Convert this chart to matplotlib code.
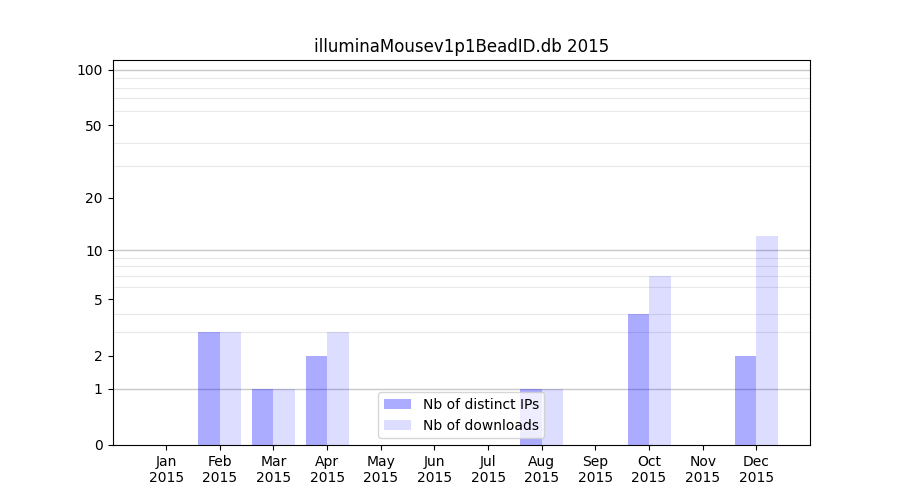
import numpy as np
import matplotlib
matplotlib.use("Agg")
import matplotlib.pyplot as plt

months = ["Jan", "Feb", "Mar", "Apr", "May", "Jun", "Jul", "Aug", "Sep", "Oct", "Nov", "Dec"]
year = "2015"
nb_ips = [0, 3, 1, 2, 0, 0, 0, 1, 0, 4, 0, 2]
nb_downloads = [0, 3, 1, 3, 0, 0, 0, 1, 0, 7, 0, 12]
ytick_vals = [0, 1, 2, 5, 10, 20, 50, 100]
major_lines = [1, 10, 100]
minor_lines = [2, 3, 4, 5, 6, 7, 8, 9, 20, 30, 40, 50, 60, 70, 80, 90]

def fwd(y):
    return np.log10(1 + np.clip(y, 0, None))

def inv(y):
    return 10 ** y - 1

fig = plt.figure(figsize=(9, 5), dpi=100)
ax = plt.subplot(111)
ax.set_axisbelow(True)
x = np.arange(1, len(months) + 1)
w = 0.4

ax.bar(x - w / 2, nb_ips, width=w, color="blue", alpha=0.33, label="Nb of distinct IPs", zorder=2)
ax.bar(x + w / 2, nb_downloads, width=w, color="blue", alpha=0.135, label="Nb of downloads", zorder=2)

ax.set_yscale("function", functions=(fwd, inv))
ax.set_ylim(0, 113)
ax.set_xlim(0, 13)

ax.set_yticks(ytick_vals)
ax.set_yticklabels([str(v) for v in ytick_vals])
ax.set_yticks(minor_lines, minor=True)
ax.tick_params(axis="y", which="minor", length=0)
ax.yaxis.grid(True, which="minor", color="#e8e8e8", linewidth=0.8, zorder=0.5)
for v in major_lines:
    ax.axhline(v, color="#c8c8c8", linewidth=1.0, zorder=0.6)

ax.set_xticks(x)
ax.set_xticklabels(["%s\n%s" % (m, year) for m in months])

ax.set_title("illuminaMousev1p1BeadID.db 2015")
ax.legend(loc="lower center")

fig.savefig("out.png", dpi=100)
